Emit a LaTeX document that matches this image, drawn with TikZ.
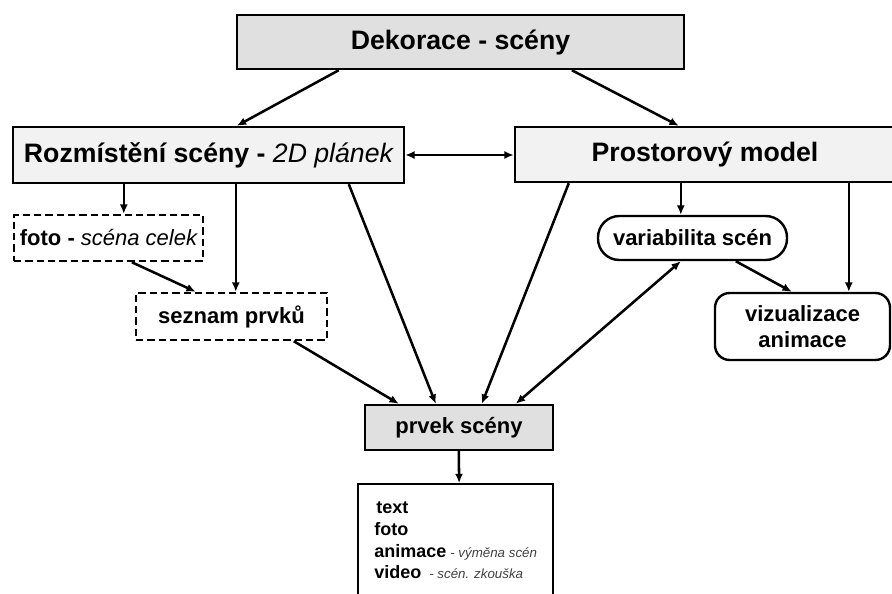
\documentclass[tikz,border=0pt]{standalone}
\usepackage{fontspec}
\setmainfont{Liberation Sans}
\usetikzlibrary{arrows.meta}
\newdimen\px \px=0.75pt
\newcommand\notefont{\fontsize{10}{12}\selectfont\mdseries\itshape\color{black!75}}
\begin{document}
\begin{tikzpicture}[x=0.75pt,y=-0.75pt,
  box/.style={draw, line width=1.8pt, inner sep=0pt, align=center},
  big/.style={font=\fontsize{20}{24}\selectfont\bfseries},
  mid/.style={font=\fontsize{16.5}{20}\selectfont\bfseries},
  dashbox/.style={dash pattern=on 5.5pt off 3pt},
  lt/.style={anchor=base west, inner sep=0pt, font=\fontsize{13.5}{16}\selectfont\bfseries},
  arr/.style={line width=1.9pt, -{Latex[length=7pt,width=6pt]}},
  darr/.style={line width=1.9pt, {Latex[length=7pt,width=6pt]}-{Latex[length=7pt,width=6pt]}},
]
\useasboundingbox (0,0) rectangle (892,593);
\clip (0,0) rectangle (892,593);

\node[box, big, fill=black!12, minimum width=447\px, minimum height=54\px] (top) at (460.5,42) {Dekorace - scény};
\node[box, big, fill=black!5, minimum width=391\px, minimum height=56\px] (L) at (208.5,155) {Rozmístění scény - {\mdseries\itshape 2D plánek}};
\node[box, big, fill=black!5, minimum width=380\px, minimum height=55\px] (R) at (705,154.5) {Prostorový model};
\node[box, mid, dashbox, minimum width=189\px, minimum height=46\px] (foto) at (108.5,238) {foto - {\mdseries\itshape scéna celek}};
\node[box, mid, dashbox, minimum width=191\px, minimum height=47\px] (sez) at (231.5,316.5) {seznam prvků};
\node[box, mid, rounded corners=16pt, minimum width=189\px, minimum height=44\px] (var) at (692.5,238) {variabilita scén};
\node[box, mid, rounded corners=11pt, minimum width=175\px, minimum height=67\px] (viz) at (802.5,326.5) {vizualizace\\animace};
\node[box, mid, fill=black!12, minimum width=188\px, minimum height=45\px] (prv) at (459,427.5) {prvek scény};
\node[box, line width=1.3pt, minimum width=195\px, minimum height=120\px] (lst) at (455.5,544) {};

\node[lt] (t1) at (376,513) {text};
\node[lt] (t2) at (374,535) {foto};
\node[lt] (t3) at (374,557) {animace\hspace{3pt}{\notefont - výměna scén}};
\node[lt] (t4) at (374,578) {video\hspace{6pt}{\notefont - scén. zkouška}};

\draw[arr] ([xshift=103\px]top.south west) -- ([xshift=225\px]L.north west);
\draw[arr] ([xshift=336\px]top.south west) -- ([xshift=165\px]R.north west);
\draw[darr] (L.east) -- (R.west |- L.east);
\draw[arr] ([xshift=112\px]L.south west) -- ([xshift=111\px]foto.north west);
\draw[arr] ([xshift=224\px]L.south west) -- ([xshift=101\px]sez.north west);
\draw[arr] ([xshift=337\px]L.south west) -- ([xshift=72\px]prv.north west);
\draw[arr] ([xshift=119\px]foto.south west) -- ([xshift=61\px]sez.north west);
\draw[arr] ([xshift=159\px]sez.south west) -- ([xshift=35\px]prv.north west);
\draw[arr] ([xshift=55\px]R.south west) -- ([xshift=118\px]prv.north west);
\draw[arr] ([xshift=167\px]R.south west) -- ([xshift=84\px]var.north west);
\draw[arr] ([xshift=335\px]R.south west) -- ([xshift=135\px]viz.north west);
\draw[arr] ([xshift=139\px]var.south west) -- ([xshift=78\px]viz.north west);
\draw[darr] ([xshift=84\px]var.south west) -- ([xshift=152\px]prv.north west);
\draw[arr] ([xshift=95\px]prv.south west) -- ([xshift=102\px]lst.north west);
\end{tikzpicture}
\end{document}
